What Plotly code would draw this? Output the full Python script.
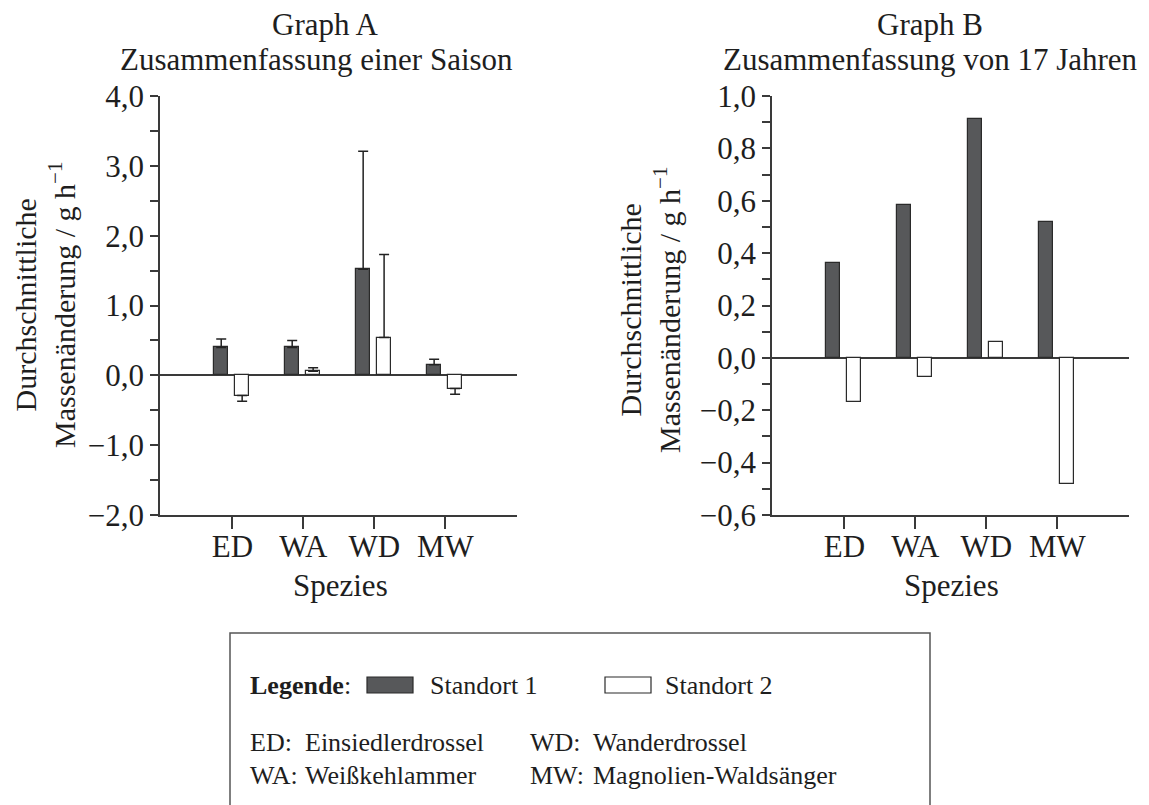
import plotly.graph_objects as go

# ---------------- data ----------------
species = ["ED", "WA", "WD", "MW"]
species_names = ["Einsiedlerdrossel", "Weißkehlammer", "Wanderdrossel", "Magnolien-Waldsänger"]

# Graph A – one season (mean and one-sided error)
a_site1 = [0.40, 0.40, 1.52, 0.15]
a_site1_err = [0.12, 0.10, 1.69, 0.08]
a_site2 = [-0.29, 0.06, 0.54, -0.19]
a_site2_err = [0.08, 0.05, 1.19, 0.08]

# Graph B – 17 years
b_site1 = [0.363, 0.584, 0.911, 0.520]
b_site2 = [-0.167, -0.074, 0.060, -0.481]

a_yticks = [-2.0, -1.0, 0.0, 1.0, 2.0, 3.0, 4.0]
b_yticks = [-0.6, -0.4, -0.2, 0.0, 0.2, 0.4, 0.6, 0.8, 1.0]

# ---------------- styling ----------------
SW, SH = 1149, 805          # browser window
M = 8                        # default page margin of the html body
W, H = SW - M, SH - M        # figure size
FONT = "Liberation Serif"
FS = 31
DARK = "#57585a"
EDGE = "#2a2a2a"
AXC = "#3a3a3a"
TXT = "#1e1e1e"


def px(x):
    return (x - M) / W


def py(y):
    return 1 - (y - M) / H


xpos = list(range(len(species)))
BW = 0.195
OFF1 = -0.255
OFF2 = 0.04


def up(v, e):
    return [ee if vv >= 0 else 0 for vv, ee in zip(v, e)]


def down(v, e):
    return [ee if vv < 0 else 0 for vv, ee in zip(v, e)]


fig = go.Figure()

# Graph A bars
fig.add_trace(go.Bar(
    x=xpos, y=a_site1, width=BW, offset=OFF1, xaxis="x", yaxis="y",
    marker=dict(color=DARK, line=dict(color=EDGE, width=1.2)),
    error_y=dict(type="data", symmetric=False, array=up(a_site1, a_site1_err),
                 arrayminus=down(a_site1, a_site1_err), color="#222", thickness=1.5, width=5),
    showlegend=False))
fig.add_trace(go.Bar(
    x=xpos, y=a_site2, width=BW, offset=OFF2, xaxis="x", yaxis="y",
    marker=dict(color="white", line=dict(color=EDGE, width=1.2)),
    error_y=dict(type="data", symmetric=False, array=up(a_site2, a_site2_err),
                 arrayminus=down(a_site2, a_site2_err), color="#222", thickness=1.5, width=5),
    showlegend=False))

# Graph B bars
fig.add_trace(go.Bar(
    x=xpos, y=b_site1, width=BW, offset=OFF1, xaxis="x2", yaxis="y2",
    marker=dict(color=DARK, line=dict(color=EDGE, width=1.2)), showlegend=False))
fig.add_trace(go.Bar(
    x=xpos, y=b_site2, width=BW, offset=OFF2, xaxis="x2", yaxis="y2",
    marker=dict(color="white", line=dict(color=EDGE, width=1.2)), showlegend=False))

xcommon = dict(range=[-1.02, 4.01], tickvals=xpos, ticktext=species, ticks="outside",
               ticklen=12, tickwidth=1.5, tickcolor=AXC, showline=True, linecolor=AXC,
               linewidth=1.5, showgrid=False, zeroline=False, automargin=False,
               ticklabelstandoff=-9,
               tickfont=dict(family=FONT, size=FS, color=TXT))

ycommon = dict(ticks="outside", ticklen=8, tickwidth=1.5, tickcolor=AXC, showline=True,
               linecolor=AXC, linewidth=1.5, showgrid=False, zeroline=True,
               zerolinecolor=AXC, zerolinewidth=1.5, tickformat=".1f", automargin=False,
               tickfont=dict(family=FONT, size=FS, color=TXT))

fig.update_layout(
    width=W, height=H, margin=dict(l=0, r=0, t=0, b=0, pad=0, autoexpand=False),
    paper_bgcolor="white", plot_bgcolor="white", separators=",.",
    barmode="overlay", bargap=0, showlegend=False,
    font=dict(family=FONT, size=FS, color=TXT),
    xaxis=dict(domain=[px(160), px(517)], anchor="y", **xcommon),
    xaxis2=dict(domain=[px(772), px(1129)], anchor="y2", **xcommon),
    yaxis=dict(domain=[py(515), py(96)], anchor="x", range=[-2.0, 4.0], tickvals=a_yticks,
               minor=dict(dtick=0.5, ticks="outside", ticklen=8, tickwidth=1.5, tickcolor=AXC),
               **ycommon),
    yaxis2=dict(domain=[py(515), py(96)], anchor="x2", range=[-0.6, 1.0], tickvals=b_yticks,
                minor=dict(dtick=0.1, ticks="outside", ticklen=8, tickwidth=1.5, tickcolor=AXC),
                **ycommon),
)

ann = []


def txt(text, x, y, xanchor="center", size=FS, angle=0):
    ann.append(dict(text=text, x=px(x), y=py(y), xref="paper", yref="paper",
                    xanchor=xanchor, yanchor="middle", showarrow=False, textangle=angle,
                    font=dict(family=FONT, size=size, color=TXT)))


# titles
txt("Graph A", 325, 24)
txt("Zusammenfassung einer Saison", 316, 59)
txt("Graph B", 930, 24)
txt("Zusammenfassung von 17 Jahren", 930, 59)
# x-axis titles
txt("Spezies", 340, 585)
txt("Spezies", 952, 585)
# y-axis titles
ytitle = "Durchschnittliche<br>Massenänderung / g h<sup>−1</sup>"
txt(ytitle, 45, 305, size=30, angle=-90)
txt(ytitle, 650, 310, size=30, angle=-90)

# legend box content
LFS = 26
txt("<b>Legende</b>:", 248, 685, "left", LFS)
txt("Standort 1", 428, 685, "left", LFS)
txt("Standort 2", 663, 685, "left", LFS)
txt(species[0] + ":", 248, 742, "left", LFS)
txt(species_names[0], 303, 742, "left", LFS)
txt(species[2] + ":", 528, 742, "left", LFS)
txt(species_names[2], 591, 742, "left", LFS)
txt(species[1] + ":", 248, 775, "left", LFS)
txt(species_names[1], 303, 775, "left", LFS)
txt(species[3] + ":", 528, 775, "left", LFS)
txt(species_names[3], 591, 775, "left", LFS)
fig.update_layout(annotations=ann)

shapes = [
    # legend frame (open at the bottom)
    dict(type="path", xref="paper", yref="paper",
         path=f"M {px(230)},0 L {px(230)},{py(633)} L {px(930)},{py(633)} L {px(930)},0",
         line=dict(color="#555", width=1.5)),
    dict(type="rect", xref="paper", yref="paper", x0=px(367), x1=px(413),
         y0=py(693), y1=py(677), fillcolor=DARK, line=dict(color=EDGE, width=1.2)),
    dict(type="rect", xref="paper", yref="paper", x0=px(605), x1=px(651),
         y0=py(693), y1=py(677), fillcolor="white", line=dict(color=EDGE, width=1.2)),
]
fig.update_layout(shapes=shapes)

fig.write_html("out.html")
